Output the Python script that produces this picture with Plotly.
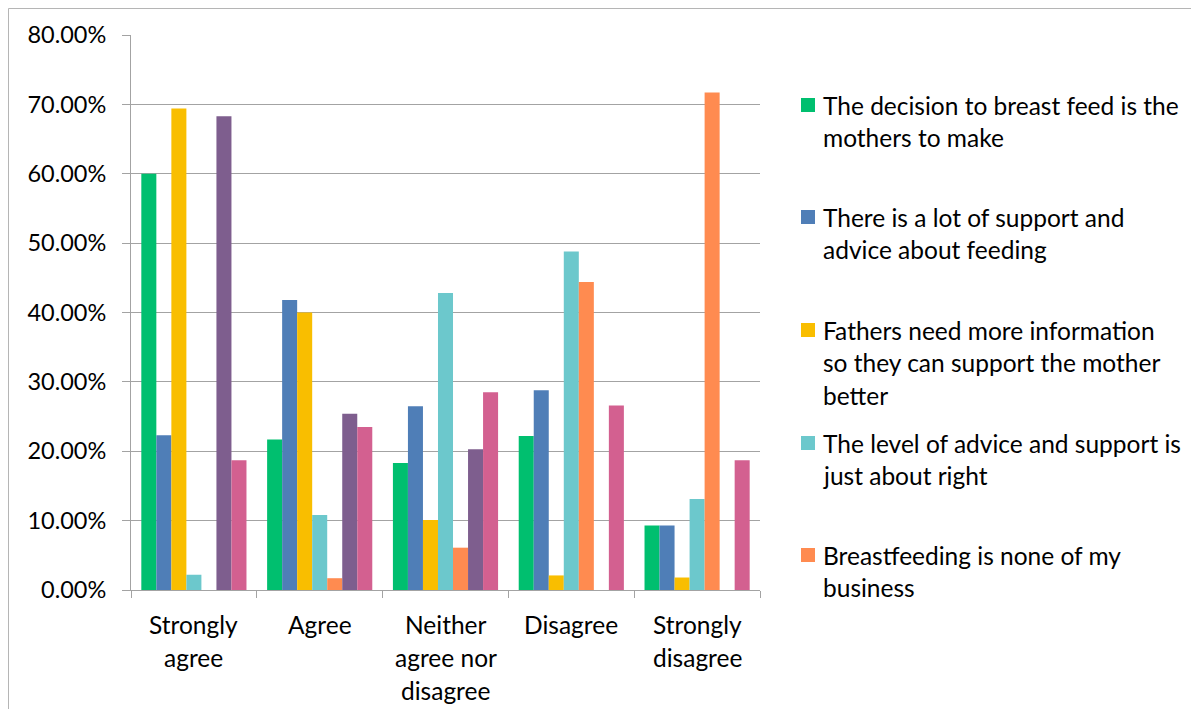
import plotly.graph_objects as go

categories = ["Strongly agree", "Agree", "Neither agree nor disagree", "Disagree", "Strongly disagree"]
category_labels = ["Strongly<br>agree", "Agree", "Neither<br>agree nor<br>disagree", "Disagree", "Strongly<br>disagree"]

series_names = [
    "The decision to breast feed is the<br>mothers to make",
    "There is a lot of support and<br>advice about feeding",
    "Fathers need more information<br>so they can support the mother<br>better",
    "The level of advice and support is<br>just about right",
    "Breastfeeding is none of my<br>business",
    "Series 6",
    "Series 7",
]
series_colors = ["#00BF6F", "#4F7EB7", "#F9BE00", "#6CC8CC", "#FF8B50", "#7E5E8E", "#D36090"]

decision_mothers = [0.600, 0.217, 0.183, 0.222, 0.093]
lot_of_support = [0.223, 0.418, 0.265, 0.288, 0.093]
fathers_info = [0.694, 0.400, 0.101, 0.021, 0.018]
advice_right = [0.022, 0.108, 0.428, 0.488, 0.131]
none_business = [0.0, 0.017, 0.061, 0.444, 0.717]
series6 = [0.683, 0.254, 0.203, 0.0, 0.0]
series7 = [0.187, 0.235, 0.285, 0.266, 0.187]

series_values = [decision_mothers, lot_of_support, fathers_info, advice_right,
                 none_business, series6, series7]

OFF = 8  # page body margin
W, H = 1199 - 2 * OFF, 717 - 2 * OFF
L, R, T, B = 131, 760, 35, 590  # plot area in screen pixels


def px_x(px):
    return (px - L) / (R - L)


def px_y(py):
    return (B - py) / (B - T)


FONT = "Lato, 'Open Sans', sans-serif"
TXT = 24.5
GRID = "#A3A3A3"

fig = go.Figure()
for name, vals, col in zip(series_names, series_values, series_colors):
    fig.add_trace(go.Bar(
        x=categories, y=vals, name=name.replace("<br>", " "),
        marker=dict(color=col, line=dict(width=0)),
        showlegend=False,
    ))

fig.update_layout(
    width=W, height=H, autosize=False,
    margin=dict(l=L - OFF, r=(1199 - OFF) - R, t=T - OFF, b=(717 - OFF) - B, pad=0),
    paper_bgcolor="white", plot_bgcolor="white",
    barmode="group", bargap=0.164, bargroupgap=0,
    font=dict(family=FONT, size=TXT, color="#000000"),
)
fig.update_yaxes(
    range=[0, 0.8], dtick=0.1, tickformat=".2%",
    showgrid=True, gridcolor=GRID, gridwidth=1,
    showline=True, linecolor=GRID, linewidth=1,
    ticks="outside", ticklen=8, tickcolor=GRID,
    ticklabelstandoff=11, zeroline=False,
    tickfont=dict(family=FONT, size=23.5, color="#000"),
)
fig.update_xaxes(
    showticklabels=False, tickson="boundaries",
    ticks="outside", ticklen=7, tickcolor=GRID,
    showline=True, linecolor=GRID, linewidth=1,
    showgrid=False,
)

# category labels (multi-line, Excel-style spacing)
line_ys = [624, 657, 690]
for cat, lab in zip(categories, category_labels):
    for i, line in enumerate(lab.split("<br>")):
        fig.add_annotation(
            x=cat, xref="x", y=px_y(line_ys[i]), yref="paper",
            text=line, showarrow=False, xanchor="center", yanchor="middle",
            font=dict(family=FONT, size=TXT, color="#000"),
        )

# legend (only first five entries visible, as in the reference)
legend_first_y = [105, 217, 330, 443, 555]
line_gap = 32.5
for k in range(5):
    y0 = legend_first_y[k]
    fig.add_shape(
        type="rect", xref="paper", yref="paper",
        x0=px_x(801), x1=px_x(815), y0=px_y(y0 + 7), y1=px_y(y0 - 7),
        fillcolor=series_colors[k], line=dict(width=0),
    )
    for i, line in enumerate(series_names[k].split("<br>")):
        fig.add_annotation(
            x=px_x(821), xref="paper", y=px_y(y0 + i * line_gap), yref="paper",
            text=line, showarrow=False, xanchor="left", yanchor="middle",
            font=dict(family=FONT, size=TXT, color="#000"),
        )

# chart border
fig.add_shape(
    type="rect", xref="paper", yref="paper", layer="below",
    x0=px_x(8.5), x1=px_x(1230), y0=px_y(740), y1=px_y(8.5),
    line=dict(color="#B5B5B5", width=1), fillcolor="rgba(0,0,0,0)",
)

fig.write_html("out.html")
